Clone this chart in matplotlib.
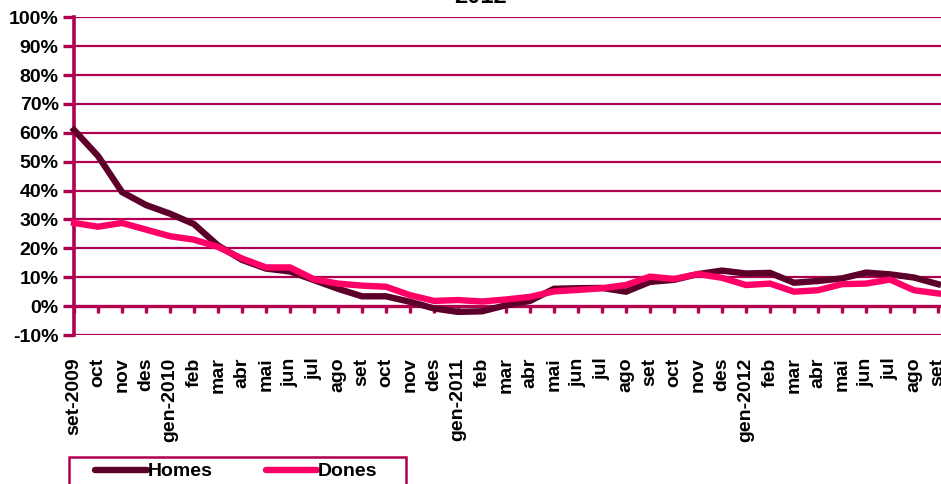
import matplotlib
matplotlib.use('Agg')
import matplotlib.pyplot as plt
from matplotlib.lines import Line2D
from matplotlib.patches import Rectangle

plt.rcParams['font.family'] = ['Liberation Sans', 'DejaVu Sans']
plt.rcParams['font.weight'] = 'bold'

months = ['set-2009', 'oct', 'nov', 'des', 'gen-2010', 'feb', 'mar', 'abr', 'mai', 'jun',
          'jul', 'ago', 'set', 'oct', 'nov', 'des', 'gen-2011', 'feb', 'mar', 'abr',
          'mai', 'jun', 'jul', 'ago', 'set', 'oct', 'nov', 'des', 'gen-2012', 'feb',
          'mar', 'abr', 'mai', 'jun', 'jul', 'ago', 'set']

homes = [61, 52, 39.5, 35, 32, 28.4, 21, 16, 13, 12, 9, 6, 3.4, 3.4, 1.5, -0.8, -2,
         -1.8, 0.3, 1.8, 6, 6.2, 6.3, 5, 8.4, 9.1, 11.1, 12.3, 11.3, 11.5, 8.1, 8.7,
         9.6, 11.6, 11, 9.9, 7.6]
dones = [28.8, 27.5, 28.8, 26.5, 24.2, 23, 20.5, 16.5, 13.4, 13.4, 9.3, 7.8, 7.1, 6.7,
         3.8, 1.8, 2.1, 1.6, 2.3, 3.2, 5.1, 5.6, 6.2, 7.3, 10.2, 9.4, 11.1, 9.8, 7.3,
         7.8, 5, 5.5, 7.6, 7.8, 9.2, 5.5, 4.4]

yticks = list(range(-10, 101, 10))

GRID = '#B00050'
C_HOMES = '#5C002A'
C_DONES = '#FF0066'

W, H = 941, 484
fig = plt.figure(figsize=(W / 100, H / 100), dpi=100)
fig.patch.set_facecolor('white')

ax = fig.add_axes([74 / W, 1 - 335 / H, (W - 74) / W, (335 - 17.3) / H])
x = list(range(len(months)))

# gridlines
for v in yticks:
    if v != 0:
        ax.axhline(v, color=GRID, lw=1.6, zorder=1)

ax.plot(x, homes, color=C_HOMES, lw=4.6, solid_joinstyle='miter', zorder=3, clip_on=False)
ax.plot(x, dones, color=C_DONES, lw=4.6, solid_joinstyle='miter', zorder=4, clip_on=False)

ax.set_xlim(0, 36.125)
ax.set_ylim(-10, 100)

for s in ['top', 'right']:
    ax.spines[s].set_visible(False)
ax.spines['left'].set_color(GRID)
ax.spines['left'].set_linewidth(2.6)
ax.spines['bottom'].set_position(('data', 0))
ax.spines['bottom'].set_color(GRID)
ax.spines['bottom'].set_linewidth(2.4)
ax.spines['bottom'].set_zorder(2)

ax.set_yticks(yticks)
ax.set_yticklabels([f'{v}%' for v in yticks], fontsize=14, fontweight='bold')
ax.tick_params(axis='y', direction='out', length=8, width=2.4, color=GRID, pad=3)

ax.set_xticks(x)
ax.set_xticklabels(months, rotation=90, fontsize=14, fontweight='bold', va='top')
ax.tick_params(axis='x', direction='out', length=5, width=2.4, color=GRID, pad=32)

# partially visible title
fig.text(480 / W, 1 - 3 / H, '2012', ha='center', va='baseline',
         fontsize=17, fontweight='bold')

# legend box (bottom is cut off by the image edge)
fig.patches.append(Rectangle((69 / W, -0.05), (406 - 69) / W, 0.05 + 1 - 457 / H,
                             transform=fig.transFigure, fill=False,
                             edgecolor=GRID, lw=1.8))
ly = 1 - 470 / H
for x0, x1, col, lab in [(95, 147, C_HOMES, 'Homes'), (266, 317, C_DONES, 'Dones')]:
    fig.lines.append(Line2D([x0 / W, x1 / W], [ly, ly], transform=fig.transFigure,
                            color=col, lw=4.6, solid_capstyle='round'))
    fig.text((x1 + 1) / W, 1 - 472 / H, lab, ha='left', va='center',
             fontsize=14, fontweight='bold')

fig.savefig('out.png', dpi=100, facecolor='white')
